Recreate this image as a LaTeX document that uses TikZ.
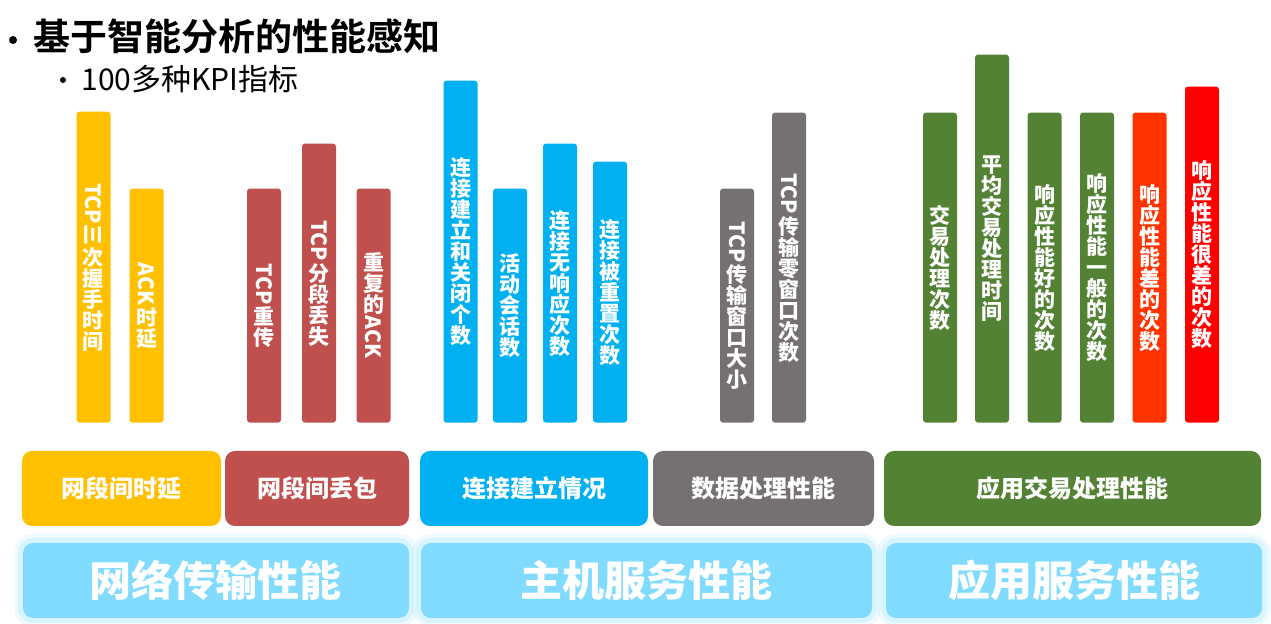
\documentclass[tikz,border=0pt]{standalone}
\usepackage{fontspec}
\usepackage{graphicx}
\newfontfamily\cjk{Noto Sans CJK SC}[BoldFont={Noto Sans CJK SC Bold}]
\newfontfamily\cjkheavy{Noto Sans CJK SC Black}

\definecolor{delayyellow}{HTML}{FFC000}
\definecolor{lossred}{HTML}{C0504D}
\definecolor{connblue}{HTML}{00B0F0}
\definecolor{datagray}{HTML}{767171}
\definecolor{appgreen}{HTML}{548235}
\definecolor{badorange}{HTML}{FF3300}
\definecolor{worstred}{HTML}{FF0000}
\definecolor{layerblue}{HTML}{80DBFF}
\definecolor{glowblue}{HTML}{B8EBFF}

% 竖排文字中的西文旋转
\newcommand{\heng}[1]{\raisebox{0.85em}{\rotatebox{-90}{#1}}}

\tikzset{
  bar/.style={anchor=south, minimum width=17pt, inner sep=0pt, rounded corners=1.5pt,
    text=white, align=center, font=\cjkheavy\fontsize{10.5}{10.5}\selectfont},
  kind/.style={minimum height=37.5pt, inner sep=0pt, rounded corners=5pt,
    text=white, font=\cjkheavy\fontsize{12}{14}\selectfont},
  layer/.style={kind, fill=layerblue, font=\cjkheavy\fontsize{21}{24}\selectfont,
    preaction={draw=glowblue, line width=9pt, draw opacity=0.25},
    preaction={draw=glowblue, line width=5pt, draw opacity=0.4}},
}

\begin{document}
\begin{tikzpicture}[x=0.5pt, y=-0.5pt]
    \useasboundingbox (0,0) rectangle (1271,624);

    % 标题
    \fill (13,40) circle (2pt);
    \node[anchor=west, inner sep=0pt, font=\cjk\bfseries\fontsize{18.5}{20}\selectfont] (title) at (33,36) {基于智能分析的性能感知};
    \fill (63,80) circle (1.5pt);
    \node[anchor=west, inner sep=0pt, font=\cjk\fontsize{15}{17}\selectfont] (subtitle) at (81,79) {100多种KPI指标};

    % 1. 网段间时延
    \node[bar, fill=delayyellow, minimum height=155.5pt] (handshake) at (93.5,423) {\heng{TCP三}\\次\\握\\手\\时\\间};
    \node[bar, fill=delayyellow, minimum height=117pt] (ackdelay) at (146.5,423) {\heng{ACK}\\时\\延};

    % 2. 网段间丢包
    \node[bar, fill=lossred, minimum height=117pt] (retrans) at (264,423) {\heng{TCP}\\重\\传};
    \node[bar, fill=lossred, minimum height=139.5pt] (seglost) at (319,423) {\heng{TCP}\\分\\段\\丢\\失};
    \node[bar, fill=lossred, minimum height=117pt] (dupack) at (373.5,423) {重\\复\\的\\\heng{ACK}};

    % 3. 连接建立情况
    \node[bar, fill=connblue, minimum height=171pt] (openclose) at (460.5,423) {连\\接\\建\\立\\和\\关\\闭\\个\\数};
    \node[bar, fill=connblue, minimum height=117pt] (session) at (510,423) {活\\动\\会\\话\\数};
    \node[bar, fill=connblue, minimum height=139.5pt] (noresp) at (560,423) {连\\接\\无\\响\\应\\次\\数};
    \node[bar, fill=connblue, minimum height=130.5pt] (reset) at (610,423) {连\\接\\被\\重\\置\\次\\数};

    % 4. 数据处理性能
    \node[bar, fill=datagray, minimum height=117pt] (window) at (737,423) {\heng{TCP}\\传\\输\\窗\\口\\大\\小};
    \node[bar, fill=datagray, minimum height=155pt] (zerowin) at (789,423) {\heng{TCP}\\传\\输\\零\\窗\\口\\次\\数};

    % 5. 应用交易处理性能
    \node[bar, fill=appgreen, minimum height=155pt] (trans) at (940,423) {交\\易\\处\\理\\次\\数};
    \node[bar, fill=appgreen, minimum height=184pt] (avgtime) at (992,423) {平\\均\\交\\易\\处\\理\\时\\间};
    \node[bar, fill=appgreen, minimum height=155pt] (good) at (1044.5,423) {响\\应\\性\\能\\好\\的\\次\\数};
    \node[bar, fill=appgreen, minimum height=155pt] (normal) at (1097,423) {响\\应\\性\\能\\一\\般\\的\\次\\数};
    \node[bar, fill=badorange, minimum height=155pt] (bad) at (1149.5,423) {响\\应\\性\\能\\差\\的\\次\\数};
    \node[bar, fill=worstred, minimum height=168pt] (worst) at (1202,423) {响\\应\\性\\能\\很\\差\\的\\次\\数};

    % 指标分类
    \node[kind, fill=delayyellow, minimum width=99.5pt] (delay) at (121.5,488.5) {网段间时延};
    \node[kind, fill=lossred, minimum width=92pt] (loss) at (317,488.5) {网段间丢包};
    \node[kind, fill=connblue, minimum width=114pt] (conn) at (534,488.5) {连接建立情况};
    \node[kind, fill=datagray, minimum width=110.5pt] (data) at (763.5,488.5) {数据处理性能};
    \node[kind, fill=appgreen, minimum width=188.5pt] (apptrans) at (1072.5,488.5) {应用交易处理性能};

    % 性能层次
    \node[layer, minimum width=193pt] (network) at (216,580.5) {网络传输性能};
    \node[layer, minimum width=225.5pt] (host) at (646.5,580.5) {主机服务性能};
    \node[layer, minimum width=188pt] (appsvc) at (1074,580.5) {应用服务性能};
\end{tikzpicture}
\end{document}
